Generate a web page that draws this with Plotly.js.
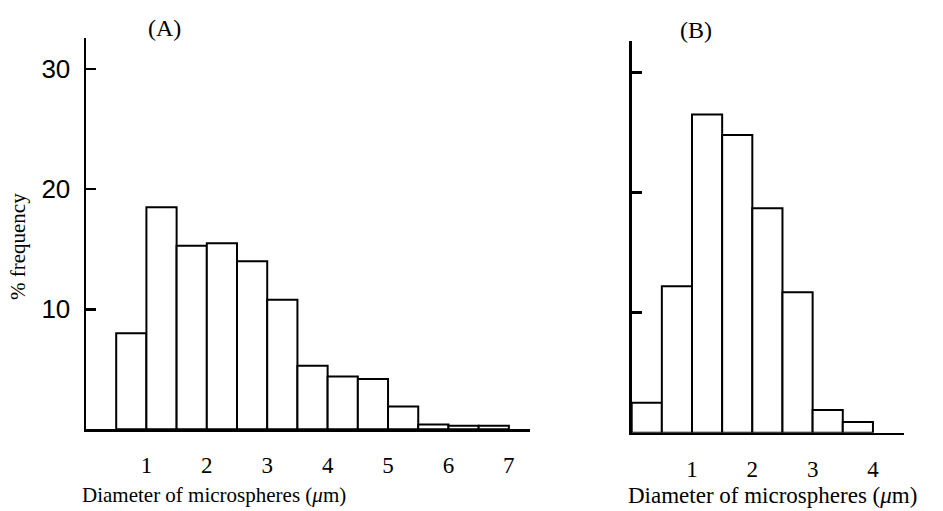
<!DOCTYPE html>
<html>
<head>
<meta charset="utf-8">
<script src="https://cdn.plot.ly/plotly-3.0.1.min.js"></script>
<style>html,body{margin:0;padding:0;background:#fff;}#chart{width:943px;height:511px;}</style>
</head>
<body>
<div id="chart"></div>
<script>
// Panel A: bin centres (µm) and % frequency
const binCentersA = [0.75, 1.25, 1.75, 2.25, 2.75, 3.25, 3.75, 4.25, 4.75, 5.25, 5.75, 6.25, 6.75];
const freqA       = [8.0, 18.5, 15.3, 15.5, 14.0, 10.8, 5.3, 4.4, 4.2, 1.9, 0.4, 0.3, 0.3];
// Panel B
const binCentersB = [0.25, 0.75, 1.25, 1.75, 2.25, 2.75, 3.25, 3.75];
const freqB       = [2.5, 12.2, 26.5, 24.8, 18.7, 11.7, 1.9, 0.9];
const binWidth = 0.5;
const xTicksA = [1, 2, 3, 4, 5, 6, 7];
const xTicksB = [1, 2, 3, 4];
const yTicks = [10, 20, 30];
const yTickLabels = ["10", "20", "30"];
const panelLabels = ["(A)", "(B)"];
const xTitle = "Diameter of microspheres (<i>μ</i>m)";
const yTitle = "% frequency";

const W = 943, H = 511;
const serif = "Liberation Serif, DejaVu Serif, serif";
const sans = "Liberation Sans Narrow, Liberation Sans, Arial, sans-serif";

const barStyle = {color: "white", line: {color: "black", width: 2}};
const traces = [
  {type: "bar", x: binCentersA, y: freqA, width: binWidth, marker: barStyle, xaxis: "x", yaxis: "y", hoverinfo: "x+y"},
  {type: "bar", x: binCentersB, y: freqB, width: binWidth, marker: barStyle, xaxis: "x2", yaxis: "y2", hoverinfo: "x+y"}
];

function xAxis(domain, range, ticks, anchor) {
  return {
    domain: domain, range: range, anchor: anchor,
    showline: true, linecolor: "black", linewidth: 2.5,
    showgrid: false, zeroline: false, ticks: "",
    tickmode: "array", tickvals: ticks, ticktext: ticks.map(String),
    ticklabelstandoff: 14,
    tickfont: {family: serif, size: 23, color: "black"},
    fixedrange: true
  };
}
function yAxis(domain, anchor, showLabels) {
  return {
    domain: domain, range: [0, 32.6], anchor: anchor,
    showline: true, linecolor: "black", linewidth: 2.5,
    showgrid: false, zeroline: false,
    ticks: "inside", ticklen: 10, tickwidth: 2.5, tickcolor: "black",
    tickmode: "array", tickvals: yTicks, ticktext: yTickLabels,
    showticklabels: showLabels, ticklabelstandoff: 8,
    tickfont: {family: sans, size: 26, color: "black"},
    fixedrange: true
  };
}

const layout = {
  width: W, height: H,
  margin: {l: 0, r: 0, t: 0, b: 0},
  paper_bgcolor: "white", plot_bgcolor: "white",
  showlegend: false, bargap: 0,
  xaxis: xAxis([86 / W, 530 / W], [0, 7.35], xTicksA, "y"),
  yaxis: yAxis([(H - 429.3) / H, (H - 38) / H], "x", true),
  xaxis2: xAxis([631.7 / W, 904.3 / W], [0, 4.52], xTicksB, "y2"),
  yaxis2: yAxis([(H - 432.7) / H, (H - 41.3) / H], "x2", false),
  annotations: [
    {text: panelLabels[0], xref: "paper", yref: "paper", x: 164 / W, y: (H - 28) / H, xanchor: "center", yanchor: "middle", showarrow: false, font: {family: serif, size: 24, color: "black"}},
    {text: panelLabels[1], xref: "paper", yref: "paper", x: 696 / W, y: (H - 30) / H, xanchor: "center", yanchor: "middle", showarrow: false, font: {family: serif, size: 24, color: "black"}},
    {text: xTitle, xref: "paper", yref: "paper", x: 214 / W, y: (H - 495) / H, xanchor: "center", yanchor: "middle", showarrow: false, font: {family: serif, size: 21, color: "black"}},
    {text: xTitle, xref: "paper", yref: "paper", x: 772 / W, y: (H - 495) / H, xanchor: "center", yanchor: "middle", showarrow: false, font: {family: serif, size: 23, color: "black"}},
    {text: yTitle, xref: "paper", yref: "paper", x: 18 / W, y: (H - 247) / H, xanchor: "center", yanchor: "middle", textangle: -90, showarrow: false, font: {family: serif, size: 21, color: "black"}}
  ]
};

Plotly.newPlot("chart", traces, layout, {displayModeBar: false, staticPlot: true});
</script>
</body>
</html>
